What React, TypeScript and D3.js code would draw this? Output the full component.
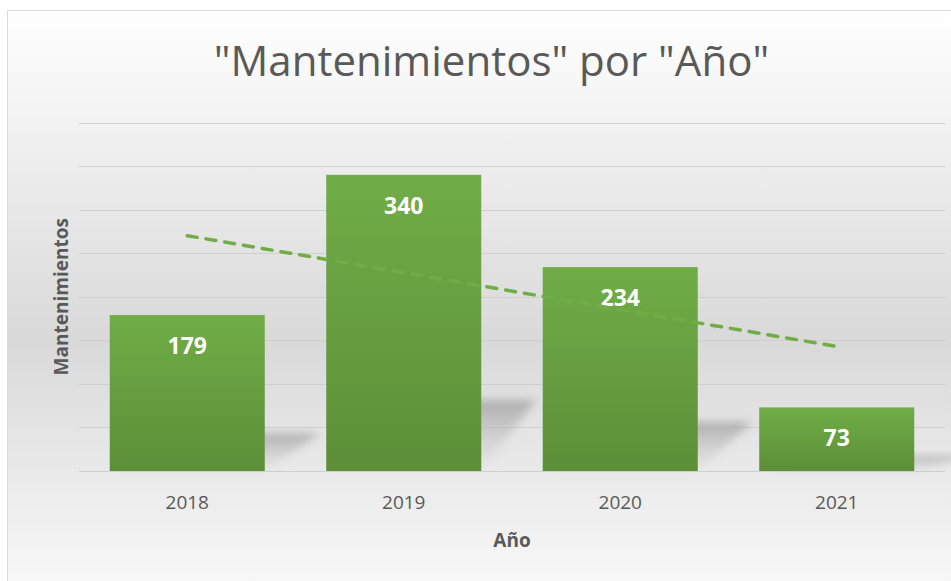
import { useEffect, useRef } from 'react';
import * as d3 from 'd3';

const years = ['2018', '2019', '2020', '2021'];
const mantenimientos = [179, 340, 234, 73];
const gridTicks = [0, 50, 100, 150, 200, 250, 300, 350, 400];

const W = 951;
const H = 581;

export default function App() {
    const svgRef = useRef<SVGSVGElement>(null);

    useEffect(() => {
        if (!svgRef.current) return;
        d3.select(svgRef.current).selectAll('*').remove();

        const svg = d3.select(svgRef.current).attr('width', W).attr('height', H);
        const font = '"Open Sans", sans-serif';
        const textColor = '#595959';

        const defs = svg.append('defs');

        // fondo del gráfico
        const bg = defs.append('linearGradient').attr('id', 'bg').attr('x1', 0).attr('y1', 0).attr('x2', 0).attr('y2', 1);
        bg.append('stop').attr('offset', '0%').attr('stop-color', '#ffffff');
        bg.append('stop').attr('offset', '55%').attr('stop-color', '#d9d9d9');
        bg.append('stop').attr('offset', '100%').attr('stop-color', '#fbfbfb');

        const barGrad = defs.append('linearGradient').attr('id', 'barGrad').attr('x1', 0).attr('y1', 0).attr('x2', 0).attr('y2', 1);
        barGrad.append('stop').attr('offset', '0%').attr('stop-color', '#70ad47');
        barGrad.append('stop').attr('offset', '100%').attr('stop-color', '#5c8f38');

        const shGrad = defs.append('linearGradient').attr('id', 'shGrad').attr('x1', 0).attr('y1', 0).attr('x2', 0).attr('y2', 1);
        shGrad.append('stop').attr('offset', '0%').attr('stop-color', '#a0a0a0').attr('stop-opacity', 0.8);
        shGrad.append('stop').attr('offset', '100%').attr('stop-color', '#d0d0d0').attr('stop-opacity', 0.15);

        const blur = defs.append('filter').attr('id', 'blur').attr('x', '-20%').attr('y', '-30%').attr('width', '140%').attr('height', '160%');
        blur.append('feGaussianBlur').attr('stdDeviation', 4);

        svg.append('rect')
            .attr('x', 7.5).attr('y', 10.5)
            .attr('width', 990).attr('height', 600)
            .attr('fill', 'url(#bg)')
            .attr('stroke', '#d9d9d9');

        const left = 79;
        const right = 945;
        const top = 122.5;
        const bottom = 471;

        const x = d3.scaleBand().domain(years).range([left, right]).paddingInner(0.284).paddingOuter(0.142);
        const y = d3.scaleLinear().domain([0, 400]).range([bottom, top]);

        // titulo
        svg.append('text')
            .attr('x', 491.5).attr('y', 76)
            .attr('text-anchor', 'middle')
            .style('font-family', font)
            .style('font-size', '42px')
            .style('fill', textColor)
            .text('"Mantenimientos" por "Año"');

        // lineas de cuadricula
        svg.append('g').selectAll('line').data(gridTicks).join('line')
            .attr('x1', left).attr('x2', right)
            .attr('y1', d => Math.round(y(d)) + 0.5).attr('y2', d => Math.round(y(d)) + 0.5)
            .attr('stroke', '#cfcfcf')
            .attr('stroke-width', 1.2);

        // sombras
        svg.append('g').selectAll('polygon').data(mantenimientos).join('polygon')
            .attr('points', (d, i) => {
                const x0 = x(years[i])!;
                const x1 = x0 + x.bandwidth();
                const sh = (bottom - y(d)) * 0.24;
                const dx = 55;
                return [[x0, bottom], [x1, bottom], [x1 + dx, bottom - sh], [x0 + dx, bottom - sh]].map(p => p.join(',')).join(' ');
            })
            .attr('fill', 'url(#shGrad)')
            .attr('filter', 'url(#blur)');

        // barras
        svg.append('g').selectAll('rect').data(mantenimientos).join('rect')
            .attr('x', (d, i) => x(years[i])!)
            .attr('y', d => y(d))
            .attr('width', x.bandwidth())
            .attr('height', d => bottom - y(d))
            .attr('fill', 'url(#barGrad)');

        // etiquetas de datos
        svg.append('g').selectAll('text').data(mantenimientos).join('text')
            .attr('x', (d, i) => x(years[i])! + x.bandwidth() / 2)
            .attr('y', d => y(d) + 39)
            .attr('text-anchor', 'middle')
            .style('font-family', font)
            .style('font-size', '23px')
            .style('font-weight', 'bold')
            .style('fill', '#ffffff')
            .text(d => d);

        // linea de tendencia (regresion lineal)
        const xs = mantenimientos.map((_, i) => i + 1);
        const mx = d3.mean(xs)!;
        const my = d3.mean(mantenimientos)!;
        const slope = d3.sum(xs, (v, i) => (v - mx) * (mantenimientos[i] - my)) / d3.sum(xs, v => (v - mx) ** 2);
        const trend = years.map((yr, i) => [x(yr)! + x.bandwidth() / 2, y(my + slope * (xs[i] - mx))] as [number, number]);
        svg.append('path')
            .attr('d', d3.line()([trend[0], trend[trend.length - 1]]))
            .attr('fill', 'none')
            .attr('stroke', '#70ad47')
            .attr('stroke-width', 3.5)
            .attr('stroke-dasharray', '10 9')
            .attr('stroke-linecap', 'round');

        // eje x
        svg.append('g').selectAll('text').data(years).join('text')
            .attr('x', d => x(d)! + x.bandwidth() / 2)
            .attr('y', 509)
            .attr('text-anchor', 'middle')
            .style('font-family', font)
            .style('font-size', '19px')
            .style('fill', textColor)
            .text(d => d);

        svg.append('text')
            .attr('x', (left + right) / 2).attr('y', 547)
            .attr('text-anchor', 'middle')
            .style('font-family', font)
            .style('font-size', '19px')
            .style('font-weight', 'bold')
            .style('fill', textColor)
            .text('Año');

        svg.append('text')
            .attr('transform', `translate(68, ${(top + bottom) / 2}) rotate(-90)`)
            .attr('text-anchor', 'middle')
            .style('font-family', font)
            .style('font-size', '19px')
            .style('font-weight', 'bold')
            .style('fill', textColor)
            .text('Mantenimientos');
    }, []);

    return (
        <div style={{ position: 'absolute', left: 0, top: 0 }}>
            <svg ref={svgRef} style={{ display: 'block' }}></svg>
        </div>
    );
}
